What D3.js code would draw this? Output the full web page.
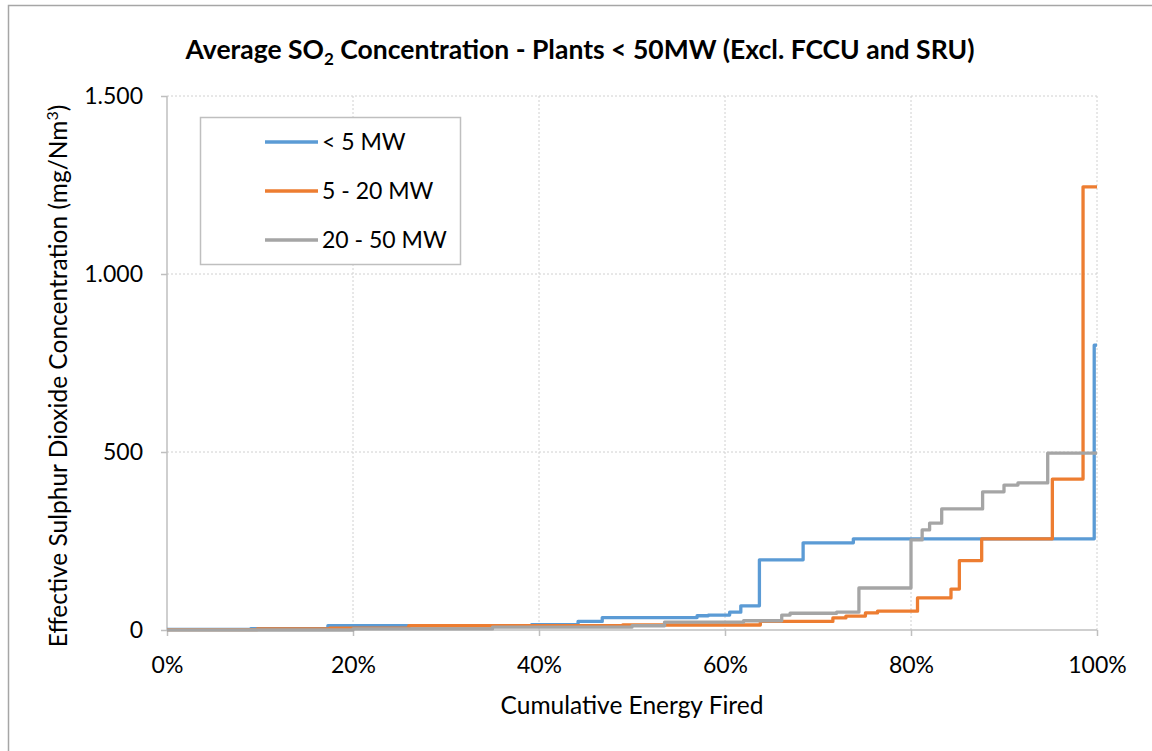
<!DOCTYPE html>
<html>
<head>
<meta charset="utf-8">
<script src="https://cdn.jsdelivr.net/npm/d3@7/dist/d3.min.js"></script>
<style>
  body { margin: 0; background: #fff; }
  text { font-family: Lato, "Open Sans", sans-serif; fill: #000; }
</style>
</head>
<body>
<script>
// series: [cumulative energy %, concentration] pairs, drawn as steps
var seriesNames = ["< 5 MW", "5 - 20 MW", "20 - 50 MW"];
var seriesColors = ["#5B9BD5", "#ED7D31", "#A5A5A5"];

var lt5 = [[0, 2], [9, 4], [17.3, 12], [39.2, 15], [44.2, 24], [46.8, 35], [57, 40], [58.2, 42],
    [60.5, 50], [61.7, 68], [63.7, 197], [68.4, 245], [73.8, 256], [99.7, 800], [100, 800]];
var mw5to20 = [[0, 1], [9.7, 3], [17.5, 5], [26, 12], [34.7, 12], [49, 14], [63.8, 24], [71.6, 34],
    [73, 39], [75.1, 48], [76.4, 53], [80.7, 90], [84.3, 115], [85.2, 195], [87.6, 256],
    [95.2, 424], [98.5, 1245], [100, 1245]];
var mw20to50 = [[0, 0], [20, 3], [35, 8], [50, 12], [53.5, 22], [62, 26], [66.1, 42], [67, 47],
    [72, 50], [74.4, 118], [80, 253], [81.2, 281], [82, 300], [83.3, 340], [87.7, 388],
    [90, 407], [91.5, 413], [94.7, 497], [100, 497]];

var xTicks = [0, 20, 40, 60, 80, 100];
var yTicks = [0, 500, 1000, 1500];
var yTickLabels = ["0", "500", "1.000", "1.500"];

var W = 1152, H = 751;
var margin = {top: 96, right: 55, bottom: 121, left: 167};
var width = W - margin.left - margin.right,
    height = H - margin.top - margin.bottom;

var svg = d3.select("body").append("svg")
    .attr("width", W)
    .attr("height", H);

// chart border
svg.append("rect")
    .attr("x", 8.5).attr("y", 5.5)
    .attr("width", W + 10).attr("height", H + 10)
    .attr("fill", "none").attr("stroke", "#A6A6A6").attr("stroke-width", 1.5);

var g = svg.append("g")
    .attr("transform", "translate(" + margin.left + "," + margin.top + ")");

var x = d3.scaleLinear().domain([0, 100]).range([0, width]);
var y = d3.scaleLinear().domain([0, 1500]).range([height, 0]);

// gridlines
g.append("g")
    .selectAll("line").data(xTicks.slice(1))
    .enter().append("line")
    .attr("x1", function(d) { return x(d); }).attr("x2", function(d) { return x(d); })
    .attr("y1", 0).attr("y2", height)
    .attr("stroke", "#D0D0D0").attr("stroke-dasharray", "2,2");
g.append("g")
    .selectAll("line").data(yTicks.slice(1))
    .enter().append("line")
    .attr("x1", 0).attr("x2", width)
    .attr("y1", function(d) { return y(d); }).attr("y2", function(d) { return y(d); })
    .attr("stroke", "#D0D0D0").attr("stroke-dasharray", "2,2");

// axes
var xAxis = d3.axisBottom(x).tickValues(xTicks)
    .tickFormat(function(d) { return d + "%"; })
    .tickSize(6).tickPadding(21);
var yAxis = d3.axisLeft(y).tickValues(yTicks)
    .tickFormat(function(d, i) { return yTickLabels[i]; })
    .tickSize(6).tickPadding(18);

var gx = g.append("g")
    .attr("transform", "translate(0," + height + ")")
    .call(xAxis);
var gy = g.append("g").call(yAxis);

[gx, gy].forEach(function(a) {
    a.select(".domain").attr("stroke", "#BFBFBF").attr("stroke-width", 1.5);
    a.selectAll(".tick line").attr("stroke", "#BFBFBF").attr("stroke-width", 1.5);
    a.selectAll(".tick text").attr("font-size", 23).attr("font-family", "Lato").attr("fill", "#000");
});
gy.select(".domain").attr("d", "M0," + height + "V0");
gx.select(".domain").attr("d", "M0,0H" + width);

// lines
var line = d3.line()
    .curve(d3.curveStepAfter)
    .x(function(d) { return x(d[0]); })
    .y(function(d) { return y(d[1]); });

var allSeries = [lt5, mw5to20, mw20to50];
allSeries.forEach(function(s, i) {
    g.append("path")
        .datum(s)
        .attr("d", line)
        .attr("fill", "none")
        .attr("stroke", seriesColors[i])
        .attr("stroke-width", 3.3)
        .attr("stroke-linejoin", "round");
});

// title
var title = svg.append("text")
    .attr("x", 580).attr("y", 59)
    .attr("text-anchor", "middle")
    .attr("font-size", 26.5).attr("font-weight", "bold");
title.append("tspan").text("Average SO");
title.append("tspan").text("2").attr("font-size", 17).attr("dy", 6);
title.append("tspan").text(" Concentration - Plants < 50MW (Excl. FCCU and SRU)").attr("dy", -6);

// axis titles
svg.append("text")
    .attr("x", margin.left + width / 2).attr("y", 714)
    .attr("text-anchor", "middle")
    .attr("font-size", 24.5)
    .text("Cumulative Energy Fired");

var yt = svg.append("text")
    .attr("transform", "translate(67,376) rotate(-90)")
    .attr("text-anchor", "middle")
    .attr("font-size", 24.5);
yt.append("tspan").text("Effective Sulphur Dioxide Concentration (mg/Nm");
yt.append("tspan").text("3").attr("font-size", 16).attr("dy", -9);
yt.append("tspan").text(")").attr("dy", 9);

// legend
var legend = svg.append("g");
legend.append("rect")
    .attr("x", 200.5).attr("y", 117.5)
    .attr("width", 260).attr("height", 147)
    .attr("fill", "#fff").attr("stroke", "#BFBFBF").attr("stroke-width", 1.5);
seriesNames.forEach(function(n, i) {
    var ly = 142 + i * 49;
    legend.append("line")
        .attr("x1", 265).attr("x2", 318)
        .attr("y1", ly).attr("y2", ly)
        .attr("stroke", seriesColors[i]).attr("stroke-width", 3.3);
    legend.append("text")
        .attr("x", 322).attr("y", ly + 8)
        .attr("font-size", 23)
        .text(n);
});
</script>
</body>
</html>
